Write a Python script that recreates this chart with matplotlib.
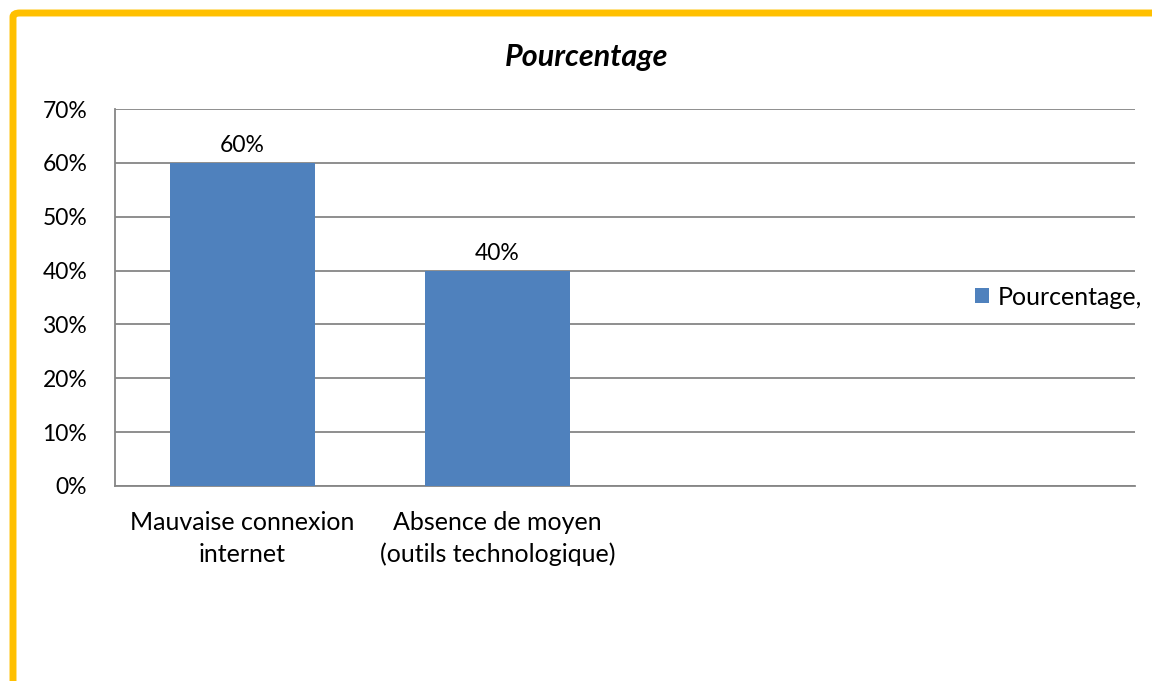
import matplotlib.pyplot as plt
from matplotlib.patches import FancyBboxPatch

plt.rcParams['font.family'] = ['Lato', 'DejaVu Sans']

# Données
categories = ['Mauvaise connexion\ninternet', 'Absence de moyen\n(outils technologique)']
pourcentage = [0.60, 0.40]
yticks = [0, 0.1, 0.2, 0.3, 0.4, 0.5, 0.6, 0.7]
n_slots = 4  # l'axe garde la place de 4 catégories

fig = plt.figure(figsize=(11.52, 6.81), dpi=100)

# cadre orange (haut et gauche visibles seulement)
cadre = FancyBboxPatch((13 / 1152, -0.2), 1.2, 1.2 - 13 / 681,
                       boxstyle='round,pad=0,rounding_size=0.006',
                       transform=fig.transFigure, fill=False,
                       edgecolor='#FFC000', linewidth=5, zorder=0)
fig.patches.append(cadre)

ax = fig.add_axes([115 / 1152, 1 - 486 / 681, 1020 / 1152, 377 / 681])
x = list(range(len(categories)))
bars = ax.bar(x, pourcentage, width=0.57, color='#4F81BD', zorder=3)

for b, v in zip(bars, pourcentage):
    ax.text(b.get_x() + b.get_width() / 2, v + 0.012, f'{v:.0%}',
            ha='center', va='bottom', fontsize=16.5)

ax.set_xlim(-0.5, n_slots - 0.5)
ax.set_ylim(0, 0.7)
ax.set_yticks(yticks)
ax.set_yticklabels([f'{t:.0%}' for t in yticks], fontsize=16.5)
ax.set_xticks(x)
ax.set_xticklabels(categories, fontsize=18, linespacing=1.45)
ax.tick_params(axis='both', length=0)
ax.tick_params(axis='y', pad=20)
ax.tick_params(axis='x', pad=18)

ax.yaxis.grid(True, color='#868686', linewidth=1.3, zorder=0)
ax.set_axisbelow(True)
for s in ['top', 'right']:
    ax.spines[s].set_visible(False)
for s in ['left', 'bottom']:
    ax.spines[s].set_color('#868686')
    ax.spines[s].set_linewidth(1.3)

fig.text(587 / 1152, 1 - 57 / 681, 'Pourcentage', ha='center', va='center',
         fontsize=22, fontweight='bold', fontstyle='italic')

ax.legend(['Pourcentage,'], loc='center left', bbox_to_anchor=(0.843, 0.501),
          frameon=False, fontsize=18, handlelength=0.55, handleheight=0.55,
          handletextpad=0.35, borderaxespad=0, borderpad=0)

fig.savefig('out.png', dpi=100)
